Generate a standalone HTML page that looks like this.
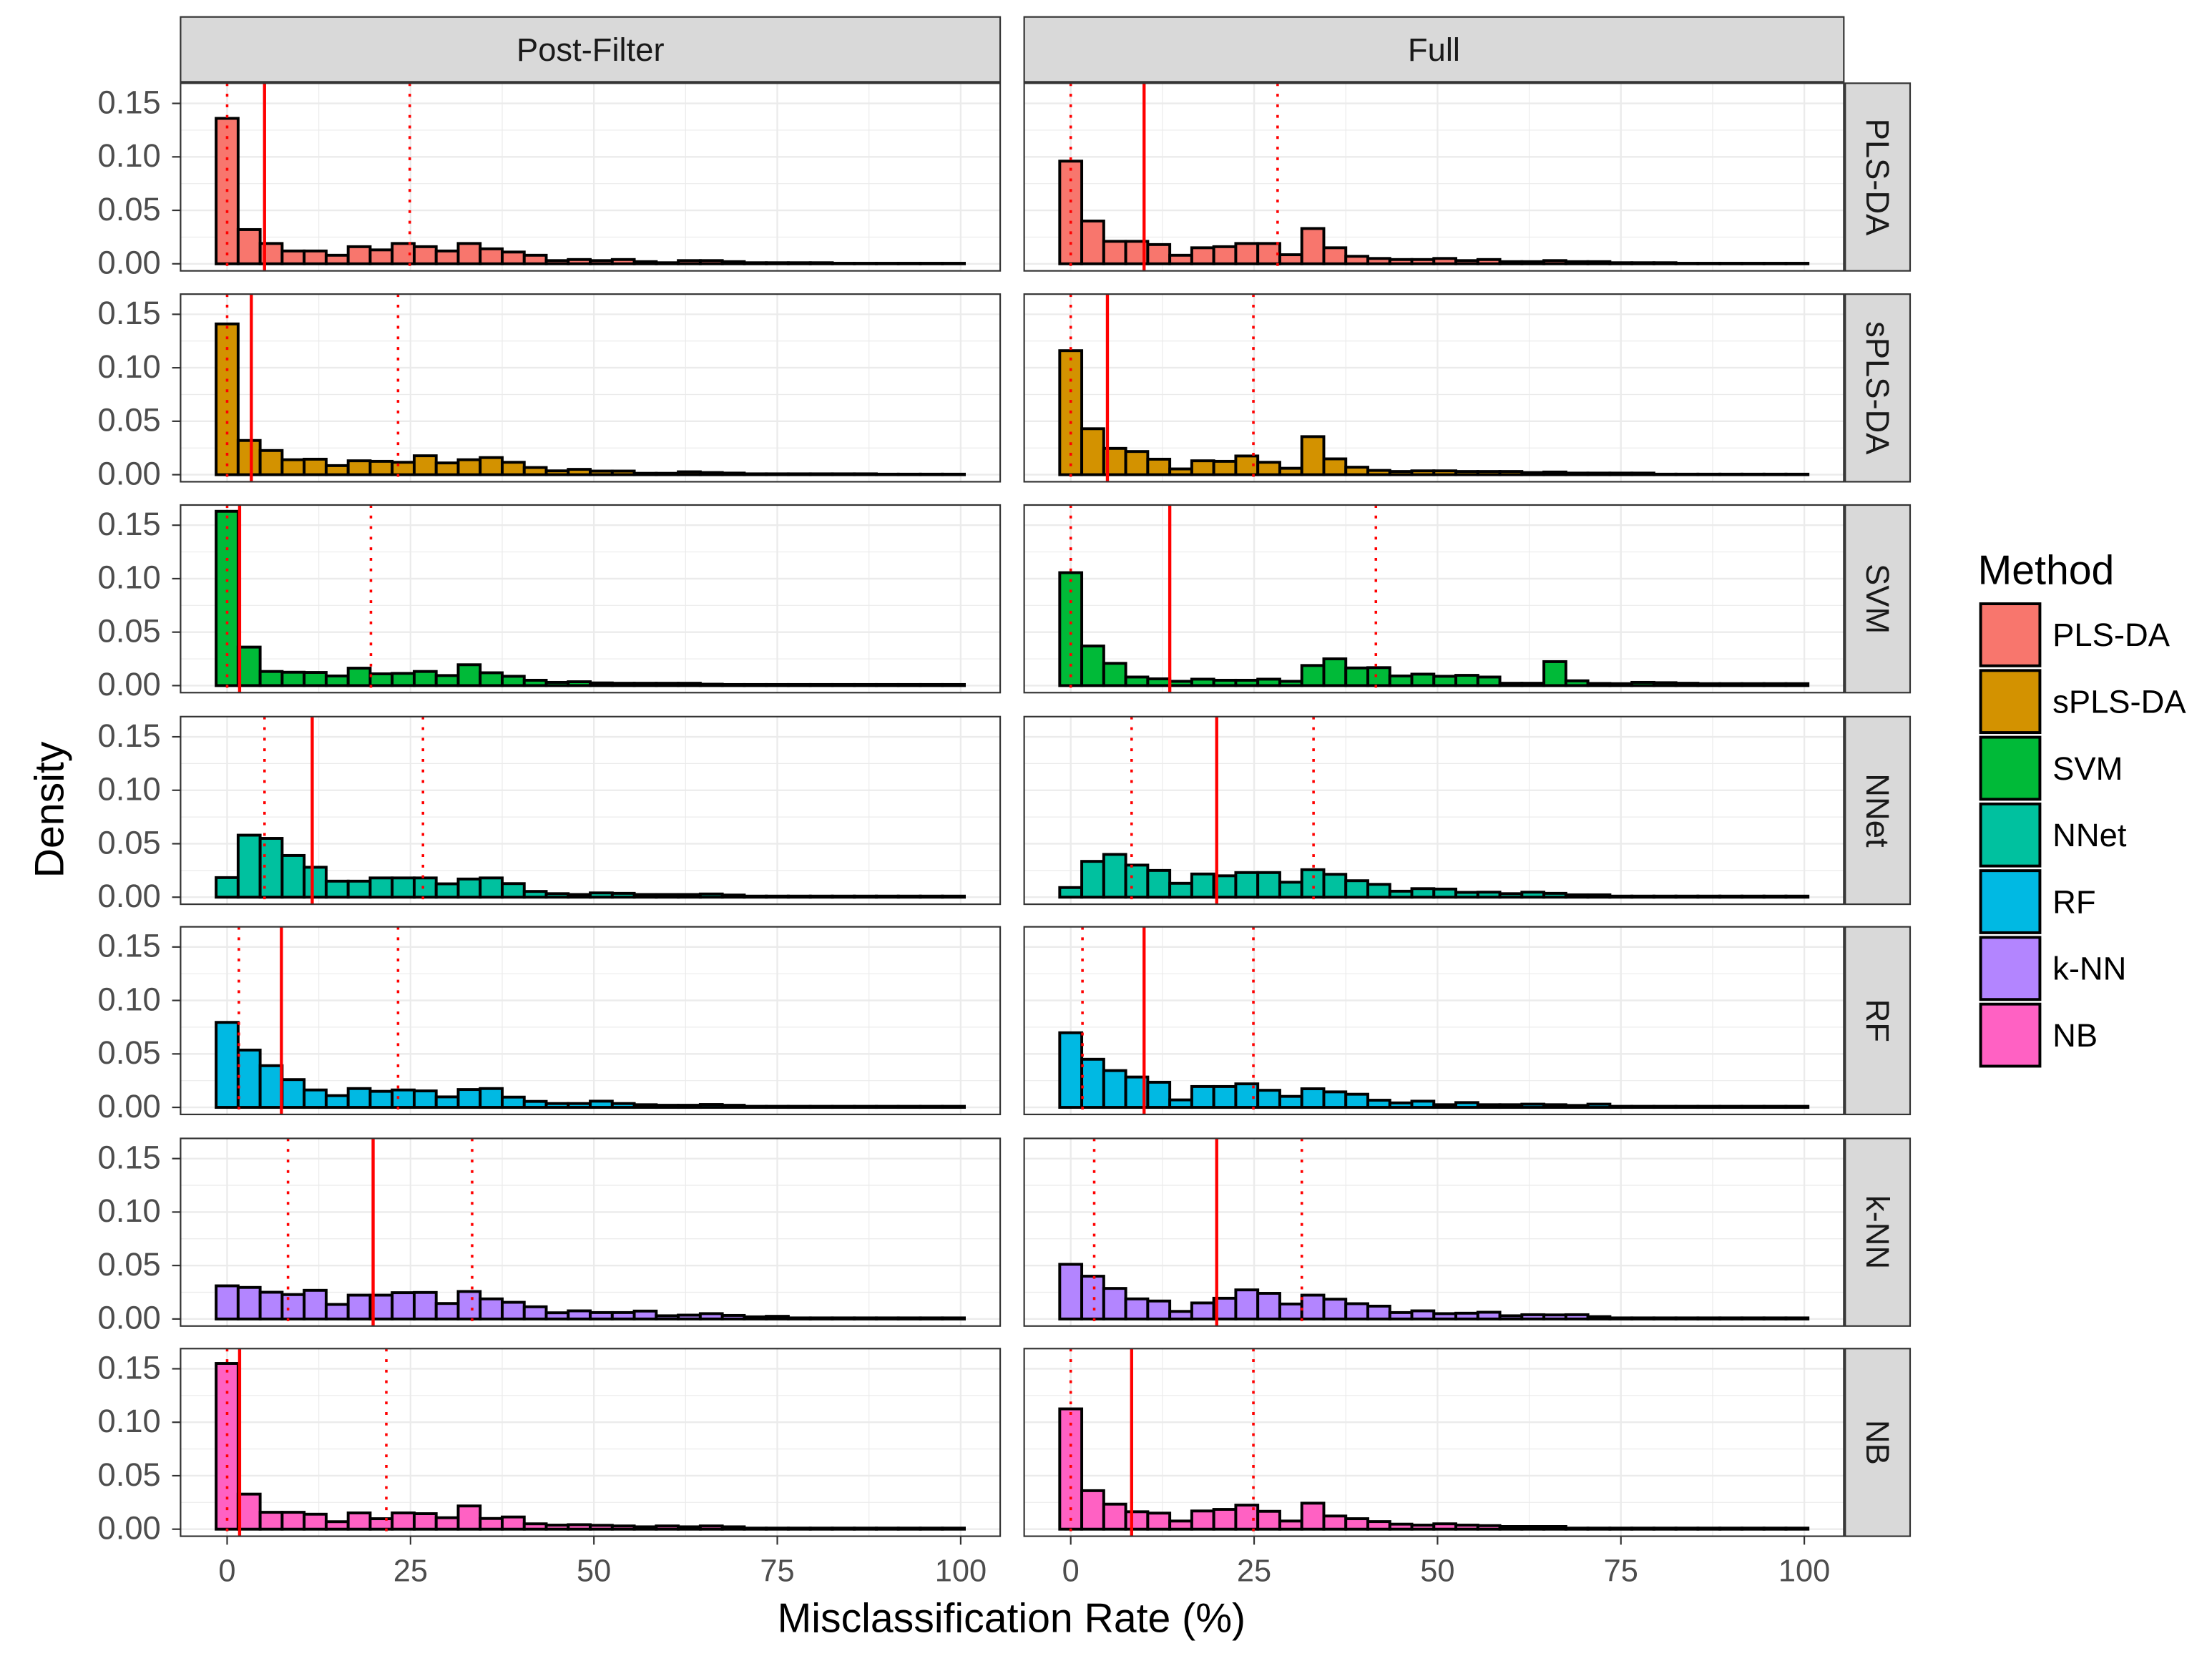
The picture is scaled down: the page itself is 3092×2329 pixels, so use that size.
<!DOCTYPE html>
<html><head><meta charset="utf-8"><style>
html,body{margin:0;padding:0;background:#fff;}
svg{display:block;font-family:"Liberation Sans",Arial,sans-serif;}
</style></head><body>
<svg id="chart" xmlns="http://www.w3.org/2000/svg" width="3092" height="2329" viewBox="0 0 1568 1181" preserveAspectRatio="none">
<rect x="0" y="0" width="1568" height="1181" fill="#fff"/>
</svg>
<script>
const methods = ["PLS-DA","sPLS-DA","SVM","NNet","RF","k-NN","NB"];
const colors = ["#F8766D","#D39200","#00BA38","#00C19F","#00B9E3","#B385FF","#FF61C3"];
const filters = ["Post-Filter","Full"];
const binCenters = Array.from({length:34},(_,k)=>k*3);
const xTicks = [0,25,50,75,100];
const yTicks = [0,0.05,0.10,0.15];
const yTickLabels = ["0.00","0.05","0.10","0.15"];
const dPLS_post = [0.136,0.032,0.019,0.012,0.012,0.008,0.016,0.013,0.019,0.016,0.012,0.019,0.014,0.011,0.008,0.003,0.004,0.003,0.004,0.002,0.001,0.003,0.003,0.002,0.001,0.001,0.001,0.001,0.0005,0.0005,0.0005,0.0005,0.0005,0.0005];
const dPLS_full = [0.096,0.040,0.021,0.021,0.018,0.008,0.015,0.016,0.019,0.019,0.0085,0.033,0.015,0.007,0.005,0.004,0.004,0.005,0.003,0.004,0.002,0.002,0.003,0.002,0.002,0.001,0.001,0.001,0.0005,0.0005,0.0005,0.0005,0.0005,0.0005];
const dSPLS_post = [0.141,0.032,0.0226,0.014,0.0145,0.0085,0.013,0.0125,0.0116,0.0177,0.011,0.014,0.016,0.0116,0.0067,0.0036,0.005,0.0034,0.0034,0.0013,0.0013,0.0027,0.002,0.0015,0.0008,0.0008,0.0008,0.0008,0.0008,0.0008,0.0005,0.0005,0.0005,0.0005];
const dSPLS_full = [0.116,0.043,0.0246,0.0217,0.0145,0.0054,0.013,0.0125,0.0175,0.0116,0.006,0.0356,0.0148,0.007,0.004,0.003,0.0036,0.0036,0.003,0.003,0.003,0.002,0.0025,0.0015,0.0015,0.0015,0.0015,0.0005,0.0005,0.0005,0.0005,0.0005,0.0005,0.0005];
const dSVM_post = [0.163,0.036,0.0132,0.0125,0.0123,0.009,0.0163,0.011,0.0114,0.0132,0.0094,0.0195,0.012,0.0087,0.005,0.003,0.0036,0.0025,0.0022,0.0022,0.0022,0.0022,0.0013,0.001,0.001,0.001,0.001,0.001,0.001,0.001,0.001,0.001,0.001,0.001];
const dSVM_full = [0.1056,0.037,0.0208,0.008,0.0063,0.004,0.006,0.005,0.005,0.006,0.004,0.0188,0.025,0.0165,0.0168,0.009,0.0107,0.0087,0.0096,0.008,0.0022,0.0022,0.0224,0.0045,0.002,0.0018,0.003,0.0027,0.0022,0.0018,0.0018,0.0018,0.0018,0.0018];
const dNNet_post = [0.0183,0.058,0.055,0.039,0.028,0.015,0.015,0.018,0.018,0.018,0.0125,0.017,0.018,0.0127,0.0054,0.0033,0.0025,0.004,0.0036,0.0025,0.0025,0.0025,0.003,0.002,0.001,0.001,0.001,0.001,0.001,0.001,0.001,0.001,0.001,0.001];
const dNNet_full = [0.009,0.0335,0.040,0.030,0.025,0.013,0.0217,0.020,0.023,0.023,0.014,0.0257,0.0214,0.0154,0.012,0.0056,0.008,0.0076,0.0045,0.0047,0.0033,0.0047,0.0036,0.0022,0.0022,0.001,0.001,0.001,0.001,0.001,0.001,0.001,0.001,0.001];
const dRF_post = [0.0795,0.0536,0.039,0.026,0.0163,0.011,0.0176,0.015,0.0163,0.0154,0.0098,0.0167,0.0176,0.0096,0.0056,0.0036,0.0036,0.0058,0.0036,0.0025,0.002,0.002,0.0027,0.002,0.001,0.001,0.001,0.001,0.001,0.001,0.001,0.001,0.001,0.001];
const dRF_full = [0.0698,0.045,0.0344,0.0284,0.0235,0.007,0.0195,0.0195,0.022,0.016,0.0103,0.0174,0.0145,0.0123,0.0067,0.0042,0.0058,0.0025,0.0045,0.0025,0.0025,0.003,0.0025,0.0018,0.003,0.001,0.001,0.001,0.001,0.001,0.001,0.001,0.001,0.001];
const dKNN_post = [0.031,0.0295,0.025,0.0228,0.0268,0.0136,0.0223,0.0223,0.0246,0.0248,0.0145,0.0257,0.0188,0.0156,0.0114,0.0058,0.0076,0.006,0.006,0.0074,0.003,0.0036,0.005,0.0033,0.002,0.0025,0.001,0.001,0.001,0.001,0.001,0.001,0.001,0.001];
const dKNN_full = [0.0511,0.040,0.0286,0.0188,0.0168,0.0071,0.015,0.0194,0.0272,0.024,0.014,0.0223,0.0185,0.0143,0.012,0.006,0.0076,0.005,0.0054,0.0063,0.003,0.004,0.0038,0.004,0.0022,0.001,0.001,0.001,0.001,0.001,0.001,0.001,0.001,0.001];
const dNB_post = [0.155,0.0328,0.0158,0.0158,0.014,0.007,0.0152,0.0098,0.0152,0.0145,0.0107,0.0217,0.010,0.0114,0.005,0.0038,0.0042,0.0036,0.003,0.0022,0.003,0.0022,0.003,0.0022,0.001,0.001,0.001,0.001,0.001,0.001,0.001,0.001,0.001,0.001];
const dNB_full = [0.1125,0.036,0.0234,0.0163,0.015,0.0076,0.017,0.0185,0.0225,0.0167,0.0076,0.0243,0.0123,0.0098,0.0071,0.0047,0.0038,0.005,0.0038,0.0033,0.0025,0.0025,0.0025,0.001,0.001,0.001,0.001,0.001,0.001,0.001,0.001,0.001,0.001,0.001];
const densities = [[dPLS_post,dPLS_full],[dSPLS_post,dSPLS_full],[dSVM_post,dSVM_full],[dNNet_post,dNNet_full],[dRF_post,dRF_full],[dKNN_post,dKNN_full],[dNB_post,dNB_full]];
const medians = [[5.1,10.0],[3.3,5.0],[1.7,13.5],[11.6,19.9],[7.4,10.0],[19.9,19.9],[1.7,8.3]];
const lowerQ = [[0,0],[0,0],[0,0],[5.1,8.3],[1.6,1.6],[8.3,3.2],[0,0]];
const upperQ = [[24.9,28.2],[23.3,24.9],[19.6,41.6],[26.7,33.1],[23.3,24.9],[33.4,31.5],[21.7,24.9]];

const NS="http://www.w3.org/2000/svg";
const svg=document.getElementById('chart');
function mk(tag,attrs,parent){const e=document.createElementNS(NS,tag);for(const k in attrs)e.setAttribute(k,attrs[k]);(parent||svg).appendChild(e);return e;}

const panelX=[128,726], panelW=581, panelTop=[59,208.5,358,508,657,807,956], panelH=133;
const xPx=5.2, yPx=758, binW=3;
function sx(c,v){return panelX[c]+33+v*xPx;}
function sy(r,v){return panelTop[r]+128-v*yPx;}

filters.forEach((f,c)=>{
  const s=mk('rect',{x:panelX[c],y:12,width:panelW,height:46,fill:'#d9d9d9',stroke:'#333','stroke-width':1.1});
  
  
  const t=mk('text',{x:panelX[c]+panelW/2,y:43,'text-anchor':'middle','font-size':23,fill:'#1a1a1a'});
  t.textContent=f;
  
  
});

methods.forEach((m,r)=>{
  const top=panelTop[r];
  const rs=mk('rect',{x:1308,y:top,width:46,height:panelH,fill:'#d9d9d9',stroke:'#333','stroke-width':1.1});
  
  
  const rt=mk('text',{x:0,y:0,'text-anchor':'middle','font-size':23,fill:'#1a1a1a',transform:`translate(1323,${top+panelH/2}) rotate(90)`});
  rt.textContent=m;
  
  
  yTicks.forEach((v,i)=>{
    const y=sy(r,v);
    const tl=mk('text',{x:114,y:y+7,'text-anchor':'end','font-size':23,fill:'#4d4d4d'});
    tl.textContent=yTickLabels[i];
    
    
    mk('line',{x1:122,x2:128,y1:y,y2:y,stroke:'#333','stroke-width':1.1});
  });
  filters.forEach((f,c)=>{
    const g=mk('g',{});
    
    
    const x0=panelX[c];
    mk('rect',{x:x0,y:top,width:panelW,height:panelH,fill:'#fff'},g);
    [0.025,0.075,0.125].forEach(v=>mk('line',{x1:x0,x2:x0+panelW,y1:sy(r,v),y2:sy(r,v),stroke:'#ebebeb','stroke-width':0.6},g));
    [12.5,37.5,62.5,87.5].forEach(v=>mk('line',{x1:sx(c,v),x2:sx(c,v),y1:top,y2:top+panelH,stroke:'#ebebeb','stroke-width':0.6},g));
    yTicks.forEach(v=>mk('line',{x1:x0,x2:x0+panelW,y1:sy(r,v),y2:sy(r,v),stroke:'#ebebeb','stroke-width':1.2},g));
    xTicks.forEach(v=>mk('line',{x1:sx(c,v),x2:sx(c,v),y1:top,y2:top+panelH,stroke:'#ebebeb','stroke-width':1.2},g));
    const d=densities[r][c];
    binCenters.forEach((bc,k)=>{
      const yT=sy(r,d[k]), yB=sy(r,0);
      const b=mk('rect',{x:sx(c,bc-binW/2),y:yT,width:binW*xPx,height:Math.max(0.01,yB-yT),fill:colors[r],stroke:'#000','stroke-width':2},g);
      
      
    });
    [lowerQ[r][c],upperQ[r][c]].forEach(v=>{
      const l=mk('line',{x1:sx(c,v),x2:sx(c,v),y1:top,y2:top+panelH,stroke:'#ff0000','stroke-width':1.8,'stroke-dasharray':'2 5.5'},g);
      
      
    });
    const ml=mk('line',{x1:sx(c,medians[r][c]),x2:sx(c,medians[r][c]),y1:top,y2:top+panelH,stroke:'#ff0000','stroke-width':2.2},g);
    
    
    mk('rect',{x:x0,y:top,width:panelW,height:panelH,fill:'none',stroke:'#333','stroke-width':1.1},g);
  });
});

filters.forEach((f,c)=>{
  xTicks.forEach(v=>{
    mk('line',{x1:sx(c,v),x2:sx(c,v),y1:1089,y2:1095,stroke:'#333','stroke-width':1.1});
    const t=mk('text',{x:sx(c,v),y:1121,'text-anchor':'middle','font-size':22,fill:'#4d4d4d'});
    t.textContent=v;
    
    
  });
});
const xt=mk('text',{x:717,y:1157,'text-anchor':'middle','font-size':29,fill:'#000'});
xt.textContent='Misclassification Rate (%)';


const yt=mk('text',{x:0,y:0,'text-anchor':'middle','font-size':29,fill:'#000',transform:'translate(45,574) rotate(-90)'});
yt.textContent='Density';



const lt=mk('text',{x:1402,y:414,'font-size':29,fill:'#000'});
lt.textContent='Method';


methods.forEach((m,i)=>{
  const y=427+i*47.3;
  const g=mk('g',{});
  
  
  mk('rect',{x:1404,y:y+1,width:42,height:44,fill:colors[i],stroke:'#000','stroke-width':2},g);
  const t=mk('text',{x:1455,y:y+31,'font-size':23,fill:'#000'},g);
  t.textContent=m;
});
</script>
</body></html>
